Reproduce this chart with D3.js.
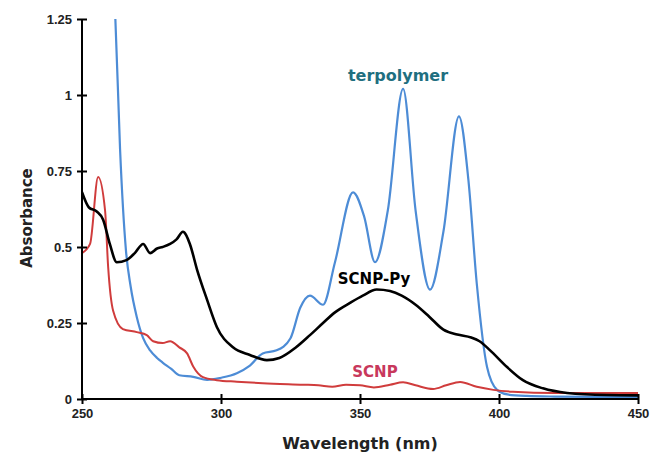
<!DOCTYPE html>
<html><head><meta charset="utf-8">
<script src="https://cdn.jsdelivr.net/npm/d3@7"></script>
<style>body{margin:0;background:#fff}svg{display:block}</style>
</head><body>
<svg id="c" width="654" height="455"></svg>
<script>
const xTicks = [250, 300, 350, 400, 450];
const yTicks = [0, 0.25, 0.5, 0.75, 1, 1.25];
const yTickLabels = ["0", "0.25", "0.5", "0.75", "1", "1.25"];

// terpolymer (blue)
const terpolymerWl = [260.5, 262, 263.7, 265.8, 267.5, 269.7, 272, 274.5, 277, 279, 282, 285, 290, 295, 300, 305.7, 310.4, 315, 320, 325, 328.5, 332, 336.7, 341, 347.5, 351.5, 355.4, 360, 365.5, 370, 375.2, 380, 385.6, 389, 392, 395.7, 399.3, 403, 410, 420, 435, 450];
const terpolymerAbs = [1.45, 1.25, 0.82, 0.49, 0.37, 0.27, 0.2, 0.16, 0.135, 0.12, 0.1, 0.078, 0.073, 0.063, 0.07, 0.085, 0.11, 0.15, 0.16, 0.2, 0.3, 0.34, 0.31, 0.45, 0.68, 0.6, 0.45, 0.62, 1.02, 0.62, 0.36, 0.55, 0.93, 0.72, 0.38, 0.105, 0.03, 0.015, 0.01, 0.008, 0.007, 0.007];

// SCNP-Py (black)
const scnpPyWl = [250, 252.5, 255.3, 257.6, 260, 262.5, 266, 269, 272, 274.5, 277, 279, 281.7, 284, 286.3, 288.8, 291.4, 295, 298.5, 304.3, 310.4, 316.5, 321, 327, 332, 336.7, 341, 346.4, 351, 356, 360.8, 365, 370, 375, 380, 385, 390, 393, 396.8, 402.9, 408.6, 415.8, 424.5, 438.8, 450];
const scnpPyAbs = [0.68, 0.63, 0.617, 0.59, 0.51, 0.45, 0.457, 0.48, 0.51, 0.48, 0.495, 0.5, 0.51, 0.525, 0.55, 0.51, 0.425, 0.326, 0.237, 0.17, 0.145, 0.128, 0.135, 0.17, 0.21, 0.25, 0.285, 0.316, 0.34, 0.36, 0.355, 0.34, 0.31, 0.27, 0.228, 0.212, 0.202, 0.19, 0.16, 0.105, 0.062, 0.035, 0.02, 0.013, 0.012];

// SCNP (red)
const scnpWl = [250, 252.9, 255.8, 258.3, 259.4, 261.2, 264.7, 269.7, 273.3, 275.6, 279, 281.7, 285, 287.8, 290, 293.5, 298.5, 305.7, 315, 329.5, 335, 340, 345, 350, 355, 360.8, 365.5, 370, 376.3, 381, 386, 392, 398, 405, 420, 450];
const scnpAbs = [0.48, 0.51, 0.73, 0.62, 0.435, 0.29, 0.23, 0.22, 0.21, 0.19, 0.184, 0.19, 0.17, 0.15, 0.107, 0.072, 0.062, 0.057, 0.052, 0.047, 0.045, 0.04, 0.047, 0.045, 0.038, 0.047, 0.055, 0.045, 0.033, 0.045, 0.056, 0.04, 0.03, 0.024, 0.02, 0.02];

const series = [
  {name: "terpolymer", wl: terpolymerWl, abs: terpolymerAbs, color: "#4d8cd6", width: 2.2},
  {name: "SCNP", wl: scnpWl, abs: scnpAbs, color: "#d03c3c", width: 2},
  {name: "SCNP-Py", wl: scnpPyWl, abs: scnpPyAbs, color: "#000000", width: 2.6}
];

const svg = d3.select("#c");
const x = d3.scaleLinear().domain([250, 450]).range([82, 638]);
const y = d3.scaleLinear().domain([0, 1.25]).range([399, 19]);

svg.append("defs").append("clipPath").attr("id", "clip")
  .append("rect").attr("x", 82).attr("y", 19).attr("width", 556).attr("height", 380);

const gen = d3.line().x(d => x(d[0])).y(d => y(d[1])).curve(d3.curveMonotoneX);

const plot = svg.append("g").attr("clip-path", "url(#clip)");
series.forEach(s => {
  const pts = s.wl.map((w, i) => [w, s.abs[i]]);
  plot.append("path").attr("d", gen(pts)).attr("fill", "none")
    .attr("stroke", s.color).attr("stroke-width", s.width)
    .attr("stroke-linejoin", "round").attr("stroke-linecap", "round");
});

// axes
const xAxis = svg.append("g").attr("transform", "translate(0,399)")
  .call(d3.axisBottom(x).tickValues(xTicks).tickSize(5).tickFormat(d3.format("d")));
const yAxis = svg.append("g").attr("transform", "translate(82,0)")
  .call(d3.axisLeft(y).tickValues(yTicks).tickSize(5).tickFormat((d, i) => yTickLabels[i]));

[xAxis, yAxis].forEach(g => {
  g.select(".domain").attr("stroke", "#000").attr("stroke-width", 2);
  g.selectAll(".tick line").attr("stroke", "#000").attr("stroke-width", 2);
  g.selectAll(".tick text").attr("font-family", "Liberation Sans, Arial, sans-serif")
    .attr("font-weight", "bold").attr("font-size", 13).attr("fill", "#222");
});
// crossing ticks
xAxis.selectAll(".tick line").attr("y1", -5).attr("y2", 5);
xAxis.selectAll(".tick text").attr("y", 10);
yAxis.selectAll(".tick line").attr("x1", -5).attr("x2", 5);
yAxis.selectAll(".tick text").attr("x", -10);
xAxis.select(".domain").attr("d", "M82,0H638");
yAxis.select(".domain").attr("d", "M0,399V19");

// axis titles
svg.append("text").attr("x", 360).attr("y", 449).attr("text-anchor", "middle")
  .attr("font-family", "DejaVu Sans, sans-serif").attr("font-weight", "bold")
  .attr("font-size", 16).attr("fill", "#222").text("Wavelength (nm)");
svg.append("text").attr("transform", "translate(32,218) rotate(-90)").attr("text-anchor", "middle")
  .attr("font-family", "DejaVu Sans, sans-serif").attr("font-weight", "bold")
  .attr("font-size", 15).attr("fill", "#222").text("Absorbance");

// series labels
svg.append("text").attr("x", 398).attr("y", 81).attr("text-anchor", "middle")
  .attr("font-family", "DejaVu Sans, sans-serif").attr("font-weight", "bold")
  .attr("font-size", 16).attr("fill", "#1f6f80").text("terpolymer");
svg.append("text").attr("x", 374).attr("y", 284).attr("text-anchor", "middle")
  .attr("font-family", "DejaVu Sans, sans-serif").attr("font-weight", "bold")
  .attr("font-size", 15).attr("fill", "#000").text("SCNP-Py");
svg.append("text").attr("x", 375).attr("y", 377).attr("text-anchor", "middle")
  .attr("font-family", "DejaVu Sans, sans-serif").attr("font-weight", "bold")
  .attr("font-size", 15).attr("fill", "#c8385c").text("SCNP");
</script>
</body></html>
